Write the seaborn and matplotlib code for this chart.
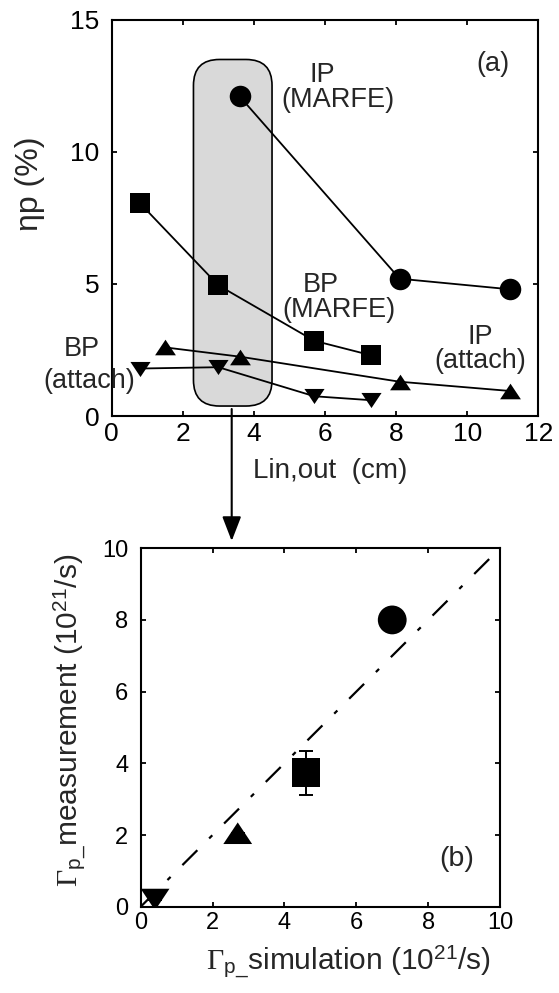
import numpy as np
import pandas as pd
import matplotlib.pyplot as plt
import seaborn as sns
from matplotlib.patches import FancyBboxPatch

# panel (a): eta_p vs Lin,out
ip_marfe_x = [3.6, 8.1, 11.2]
ip_marfe_y = [12.1, 5.2, 4.8]
bp_marfe_x = [0.8, 3.0, 5.7, 7.3]
bp_marfe_y = [8.05, 4.95, 2.85, 2.3]
ip_attach_x = [1.5, 3.6, 8.1, 11.2]
ip_attach_y = [2.6, 2.25, 1.3, 0.95]
bp_attach_x = [0.8, 3.0, 5.7, 7.3]
bp_attach_y = [1.8, 1.85, 0.75, 0.6]

# panel (b): measured vs simulated flux (10^21/s)
cases = ['IP (MARFE)', 'BP (MARFE)', 'IP (attach)', 'BP (attach)']
sim_flux = [7.0, 4.6, 2.7, 0.4]
meas_flux = [8.0, 3.74, 2.05, 0.2]
meas_err = [0.0, 0.61, 0.0, 0.0]
diag_x = [0.0, 9.85]

# highlighted region in (a)
box_x = [2.3, 4.51]
box_y = [0.38, 13.5]

sns.set_style("ticks")
plt.rcParams['font.family'] = ['Liberation Sans', 'DejaVu Sans']
plt.rcParams['mathtext.fontset'] = 'custom'
plt.rcParams['mathtext.rm'] = 'Liberation Serif'
plt.rcParams['mathtext.sf'] = 'Liberation Sans'
plt.rcParams['mathtext.it'] = 'Liberation Serif:italic'

tri_up = [(-1, -0.75), (1, -0.75), (0, 0.75)]
tri_dn = [(-1, 0.75), (1, 0.75), (0, -0.75)]
mk = {'IP (MARFE)': 'o', 'BP (MARFE)': 's', 'IP (attach)': tri_up, 'BP (attach)': tri_dn}

fig = plt.figure(figsize=(5.59, 9.93), dpi=100)
ax1 = fig.add_axes([0.1998, 0.581, 0.7632, 0.399])
ax2 = fig.add_axes([0.2517, 0.0869, 0.6428, 0.361])

for ax in (ax1, ax2):
    for sp in ax.spines.values():
        sp.set_linewidth(1.5)
        sp.set_color('k')
    ax.tick_params(direction='in', top=True, right=True, length=3.8, width=1.3, colors='k')

# ---- panel (a)
series = [
    (ip_marfe_x, ip_marfe_y, 'o', 15.5),
    (bp_marfe_x, bp_marfe_y, 's', 14.8),
    (ip_attach_x, ip_attach_y, tri_up, 15.0),
    (bp_attach_x, bp_attach_y, tri_dn, 14.5),
]
for xs, ys, m, ms in series:
    sns.lineplot(x=xs, y=ys, ax=ax1, color='k', lw=1.3, marker=m, markersize=ms,
                 markeredgecolor='k', markeredgewidth=0, zorder=3)

r = 0.73
box = FancyBboxPatch((box_x[0], box_y[0]), box_x[1] - box_x[0], box_y[1] - box_y[0],
                     boxstyle=f"round,pad=0,rounding_size={r}", mutation_aspect=35.5 / 26.4,
                     facecolor='#d9d9d9', edgecolor='k', lw=1.2, zorder=1)
ax1.add_patch(box)

ax1.set_xlim(0, 12)
ax1.set_ylim(0, 15)
ax1.set_xticks(np.arange(0, 13, 2))
ax1.set_yticks([0, 5, 10, 15])
ax1.tick_params(axis='x', labelsize=19, pad=4)
ax1.tick_params(axis='y', labelsize=19, pad=9)
ax1.set_xlabel('Lin,out  (cm)', fontsize=20)
ax1.xaxis.set_label_coords(0.512, -0.106)
ax1.set_ylabel('ηp (%)', fontsize=23)
ax1.yaxis.set_label_coords(-0.156, 0.586)

tk = dict(fontsize=19.5, ha='center', va='center', clip_on=False)
ax1.text(0.894, 0.889, '(a)', transform=ax1.transAxes, **tk)
ax1.text(5.93, 12.9, 'IP', **tk)
ax1.text(6.35, 11.97, '(MARFE)', **tk)
ax1.text(5.88, 4.96, 'BP', **tk)
ax1.text(6.40, 4.01, '(MARFE)', **tk)
ax1.text(10.36, 3.0, 'IP', **tk)
ax1.text(10.36, 2.08, '(attach)', **tk)
ax1.text(-0.84, 2.54, 'BP', **tk)
ax1.text(-0.63, 1.33, '(attach)', **tk)

# arrow from the highlighted region down to panel (b)
ax1.annotate('', xy=(0.4145, 1 - 541 / 993), xytext=(0.4145, 1 - 409 / 993),
             xycoords='figure fraction', textcoords='figure fraction',
             arrowprops=dict(arrowstyle='-|>,head_length=0.75,head_width=0.29',
                             mutation_scale=20, color='k', lw=1.5, shrinkA=0, shrinkB=0))

# ---- panel (b)
df = pd.DataFrame({'case': cases, 'sim': sim_flux, 'meas': meas_flux, 'err': meas_err})
sns.lineplot(x=diag_x, y=diag_x, ax=ax2, color='k', lw=1.6,
             linestyle=(0, (9.5, 7.5, 2, 7.5)), zorder=1)
ax2.errorbar(df['sim'], df['meas'], yerr=df['err'], fmt='none', ecolor='k',
             elinewidth=1.4, capsize=4.7, capthick=1.4, zorder=2)
sns.scatterplot(data=df, x='sim', y='meas', style='case', markers=mk, ax=ax2,
                color='k', s=430, edgecolor='k', linewidth=0, legend=False, zorder=3)

ax2.set_xlim(0, 10)
ax2.set_ylim(0, 10)
ax2.set_xticks(np.arange(0, 11, 2))
ax2.set_yticks(np.arange(0, 11, 2))
ax2.tick_params(axis='x', labelsize=17, pad=4)
ax2.tick_params(axis='y', labelsize=17, pad=9)
ax2.set_xlabel(r'$\Gamma_{\mathsf{p\_}}$simulation (10$^{\mathsf{21}}$/s)', fontsize=21.5)
ax2.xaxis.set_label_coords(0.577, -0.105)
ax2.set_ylabel(r'$\Gamma_{\mathsf{p\_}}$measurement (10$^{\mathsf{21}}$/s)', fontsize=21.5)
ax2.yaxis.set_label_coords(-0.144, 0.521)
ax2.text(0.878, 0.133, '(b)', transform=ax2.transAxes, fontsize=20.5, ha='center', va='center')

fig.savefig('out.png', dpi=100)
